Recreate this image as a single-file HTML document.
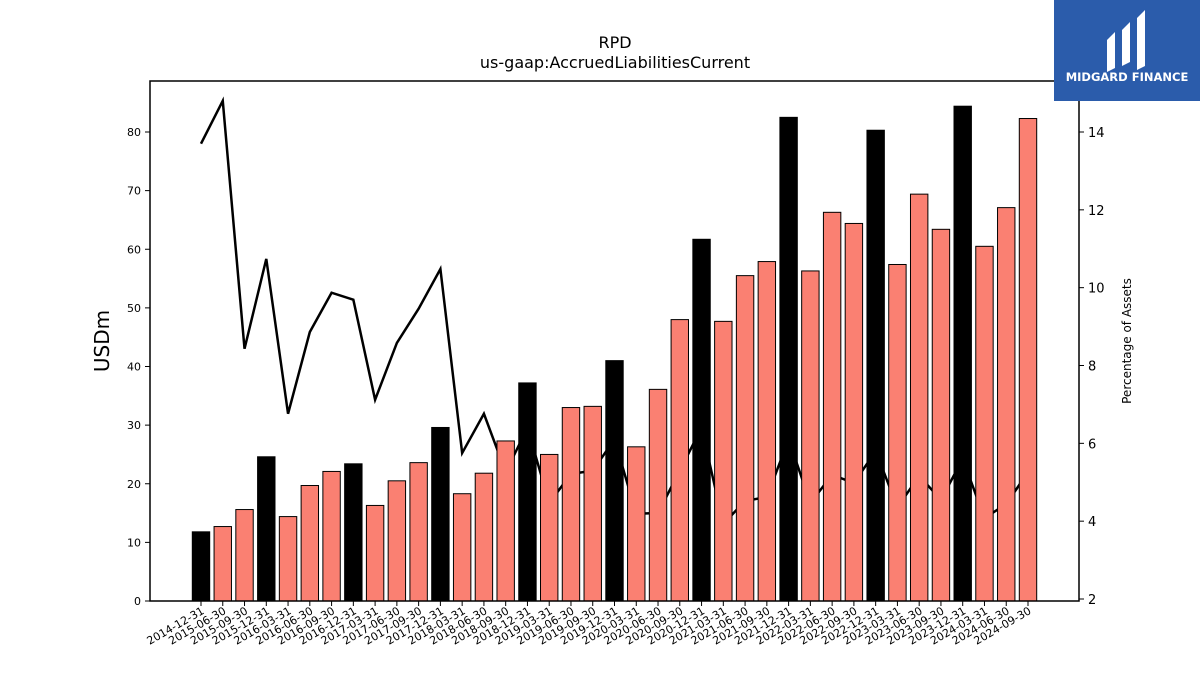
<!DOCTYPE html>
<html><head><meta charset="utf-8"><style>
body{margin:0;background:#fff;font-family:"DejaVu Sans","Liberation Sans",sans-serif}
svg text{font-family:"DejaVu Sans","Liberation Sans",sans-serif}
</style></head><body>
<svg id="chart" width="1200" height="675" xmlns="http://www.w3.org/2000/svg">
<text x="615" y="48" text-anchor="middle" font-size="16">RPD</text>
<text x="615" y="68" text-anchor="middle" font-size="16">us-gaap:AccruedLiabilitiesCurrent</text>
<g id="lineLayer"></g><g id="barLayer"></g><g id="axes"></g>
<text transform="translate(109,341) rotate(-90)" text-anchor="middle" font-size="20">USDm</text>
<text transform="translate(1131,341) rotate(-90)" text-anchor="middle" font-size="12">Percentage of Assets</text>
<g>
<rect x="1054" y="0" width="146" height="101" fill="#2b5cab"/>
<path d="M1107 40 L1115 32 L1115 68 L1107 72Z M1122 30 L1130 22 L1130 62 L1122 66Z M1137 18 L1145 10 L1145 66 L1137 70Z" fill="#fff"/>
<text x="1127" y="81" text-anchor="middle" font-size="11.5" font-weight="bold" fill="#fff">MIDGARD FINANCE</text>
</g>
</svg>
<script>
const categories=["2014-12-31","2015-06-30","2015-09-30","2015-12-31","2016-03-31","2016-06-30","2016-09-30","2016-12-31","2017-03-31","2017-06-30","2017-09-30","2017-12-31","2018-03-31","2018-06-30","2018-09-30","2018-12-31","2019-03-31","2019-06-30","2019-09-30","2019-12-31","2020-03-31","2020-06-30","2020-09-30","2020-12-31","2021-03-31","2021-06-30","2021-09-30","2021-12-31","2022-03-31","2022-06-30","2022-09-30","2022-12-31","2023-03-31","2023-06-30","2023-09-30","2023-12-31","2024-03-31","2024-06-30","2024-09-30"];
const barValues=[11.8,12.7,15.6,24.6,14.4,19.7,22.1,23.4,16.3,20.5,23.6,29.6,18.3,21.8,27.3,37.2,25.0,33.0,33.2,41.0,26.3,36.1,48.0,61.7,47.7,55.5,57.9,82.5,56.3,66.3,64.4,80.3,57.4,69.4,63.4,84.4,60.5,67.1,82.3];
const pctValues=[13.7,14.8,8.43,10.74,6.76,8.86,9.87,9.69,7.12,8.58,9.46,10.48,5.75,6.76,5.26,6.4,4.47,5.21,5.3,6.1,4.19,4.21,5.3,6.4,3.93,4.52,4.62,6.1,4.47,5.19,4.98,5.8,4.36,5.16,4.55,5.6,4.08,4.44,5.26];
const leftTicks=[0,10,20,30,40,50,60,70,80];
const rightTicks=[2,4,6,8,10,12,14];
const NS="http://www.w3.org/2000/svg";
const X0=150,X1=1079,Y0=81,Y1=601;
const xs=i=>201+i*(1028-201)/(categories.length-1);
const yL=v=>601-v*(601-132)/80;
const yR=v=>599-(v-2)*(599-132)/12;
function mk(t,a,p){const e=document.createElementNS(NS,t);for(const k in a)e.setAttribute(k,a[k]);p.appendChild(e);return e;}
const bl=document.getElementById('barLayer'),ll=document.getElementById('lineLayer'),ax=document.getElementById('axes');
const bw=21.76*0.8;
categories.forEach((c,i)=>{
 const r=mk('rect',{x:xs(i)-bw/2,y:yL(barValues[i]),width:bw,height:Y1-yL(barValues[i]),fill:c.endsWith('12-31')?'#000':'#fa8072',stroke:'#000','stroke-width':1},bl);
 
 
 mk('line',{x1:xs(i),x2:xs(i),y1:Y1,y2:Y1+5,stroke:'#000'},ax);
 const t=mk('text',{transform:`translate(${xs(i)+4},${Y1+12}) rotate(-30)`,'text-anchor':'end','font-size':11},ax);
 t.textContent=c;
 
 
});
const pl=mk('polyline',{points:pctValues.map((v,i)=>xs(i)+','+yR(v)).join(' '),fill:'none',stroke:'#000','stroke-width':2.5},ll);


const fr=mk('rect',{x:X0,y:Y0,width:X1-X0,height:Y1-Y0,fill:'none',stroke:'#000','stroke-width':1.5},ax);


leftTicks.forEach(v=>{
 mk('line',{x1:X0-5,x2:X0,y1:yL(v),y2:yL(v),stroke:'#000'},ax);
 const t=mk('text',{x:X0-9,y:yL(v)+4,'text-anchor':'end','font-size':11},ax);t.textContent=v;
 
 
});
rightTicks.forEach(v=>{
 mk('line',{x1:X1,x2:X1+5,y1:yR(v),y2:yR(v),stroke:'#000'},ax);
 const t=mk('text',{x:X1+9,y:yR(v)+5,'font-size':13},ax);t.textContent=v;
 
 
});
</script>
</body></html>
